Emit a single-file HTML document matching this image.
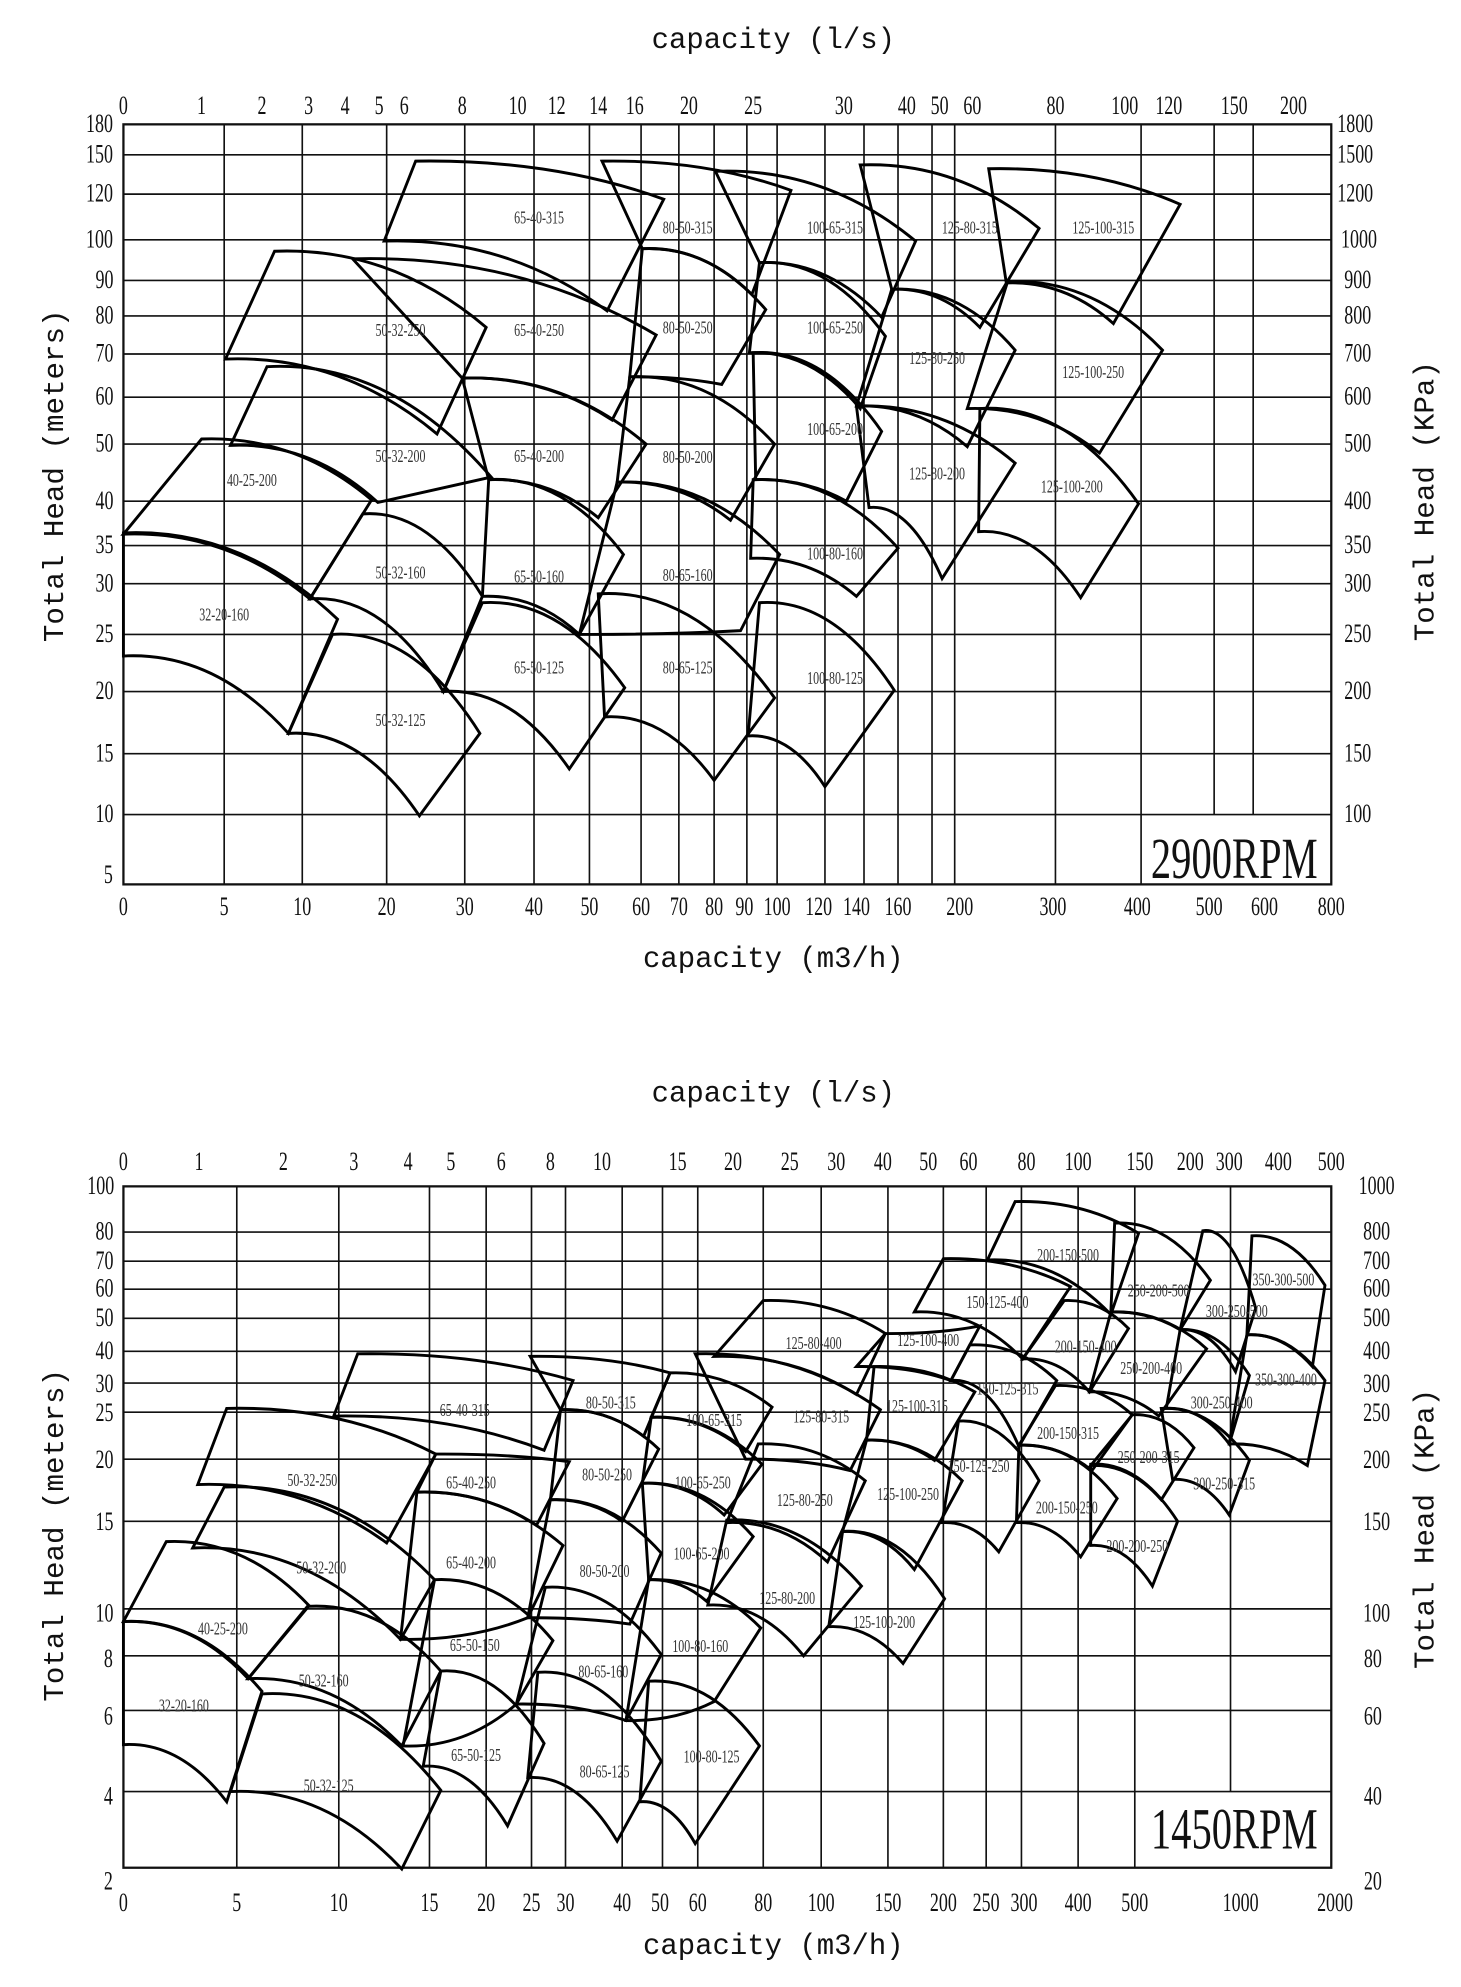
<!DOCTYPE html>
<html><head><meta charset="utf-8"><style>
html,body{margin:0;padding:0;background:#fff;}
svg{display:block;}
text{font-family:"Liberation Serif",serif;fill:#111;}
.t text{font-size:21px;transform-box:fill-box;transform-origin:center;transform:scaleX(0.68);}
.p text{font-size:14px;fill:#333;transform-box:fill-box;transform-origin:center;transform:scaleX(0.68);}
.ax{font-size:23px;font-family:"Liberation Mono","Liberation Sans",monospace;}
.rpm{font-size:46px;transform-box:fill-box;transform-origin:center;transform:scaleX(0.7);}
</style></head><body>
<svg id="s" width="1461" height="1987" viewBox="0 0 1160 1566" preserveAspectRatio="none" xmlns="http://www.w3.org/2000/svg">
<g id="grid" stroke="#111" stroke-width="1.3" fill="none"></g>
<g id="shapes" stroke="#000" stroke-width="2.3" fill="none" stroke-linejoin="miter"></g>

<!-- Chart 1 text -->
<text class="ax" x="614" y="38" text-anchor="middle">capacity (l/s)</text>
<text class="ax" x="614" y="762" text-anchor="middle">capacity (m3/h)</text>
<text class="ax" transform="translate(50,375) rotate(-90)" text-anchor="middle">Total Head (meters)</text>
<text class="ax" transform="translate(1138,395) rotate(-90)" text-anchor="middle">Total Head (KPa)</text>
<text class="rpm" x="980" y="692" text-anchor="middle">2900RPM</text>

<g class="t" text-anchor="middle">
<text x="98" y="90">0</text><text x="160" y="90">1</text><text x="208" y="90">2</text><text x="245" y="90">3</text><text x="274" y="90">4</text><text x="301" y="90">5</text><text x="321" y="90">6</text><text x="367" y="90">8</text><text x="411" y="90">10</text><text x="442" y="90">12</text><text x="475" y="90">14</text><text x="504" y="90">16</text><text x="547" y="90">20</text><text x="598" y="90">25</text><text x="670" y="90">30</text><text x="720" y="90">40</text><text x="746" y="90">50</text><text x="772" y="90">60</text><text x="838" y="90">80</text><text x="893" y="90">100</text><text x="928" y="90">120</text><text x="980" y="90">150</text><text x="1027" y="90">200</text>
<text x="98" y="721">0</text><text x="178" y="721">5</text><text x="240" y="721">10</text><text x="307" y="721">20</text><text x="369" y="721">30</text><text x="424" y="721">40</text><text x="468" y="721">50</text><text x="509" y="721">60</text><text x="539" y="721">70</text><text x="567" y="721">80</text><text x="591" y="721">90</text><text x="617" y="721">100</text><text x="650" y="721">120</text><text x="680" y="721">140</text><text x="713" y="721">160</text><text x="762" y="721">200</text><text x="836" y="721">300</text><text x="903" y="721">400</text><text x="960" y="721">500</text><text x="1004" y="721">600</text><text x="1057" y="721">800</text>
</g>
<g class="t" text-anchor="middle">
<text x="79" y="104">180</text><text x="79" y="128">150</text><text x="79" y="159">120</text><text x="79" y="195">100</text><text x="83" y="227">90</text><text x="83" y="255">80</text><text x="83" y="285">70</text><text x="83" y="319">60</text><text x="83" y="356">50</text><text x="83" y="401">40</text><text x="83" y="436">35</text><text x="83" y="466">30</text><text x="83" y="506">25</text><text x="83" y="551">20</text><text x="83" y="600">15</text><text x="83" y="648">10</text><text x="86" y="696">5</text>
</g>
<g class="t" text-anchor="middle">
<text x="1076" y="104">1800</text><text x="1076" y="128">1500</text><text x="1076" y="159">1200</text><text x="1079" y="195">1000</text><text x="1078" y="227">900</text><text x="1078" y="255">800</text><text x="1078" y="285">700</text><text x="1078" y="319">600</text><text x="1078" y="356">500</text><text x="1078" y="401">400</text><text x="1078" y="436">350</text><text x="1078" y="466">300</text><text x="1078" y="506">250</text><text x="1078" y="551">200</text><text x="1078" y="600">150</text><text x="1078" y="648">100</text>
</g>
<g class="p" text-anchor="middle">
<text x="428" y="176">65-40-315</text><text x="546" y="184">80-50-315</text><text x="663" y="184">100-65-315</text><text x="770" y="184">125-80-315</text><text x="876" y="184">125-100-315</text>
<text x="318" y="265">50-32-250</text><text x="428" y="265">65-40-250</text><text x="546" y="263">80-50-250</text><text x="663" y="263">100-65-250</text><text x="744" y="287">125-80-250</text><text x="868" y="298">125-100-250</text>
<text x="318" y="364">50-32-200</text><text x="428" y="364">65-40-200</text><text x="546" y="365">80-50-200</text><text x="663" y="343">100-65-200</text><text x="744" y="378">125-80-200</text><text x="851" y="388">125-100-200</text>
<text x="200" y="383">40-25-200</text><text x="318" y="456">50-32-160</text><text x="428" y="459">65-50-160</text><text x="546" y="458">80-65-160</text><text x="663" y="441">100-80-160</text><text x="178" y="489">32-20-160</text>
<text x="428" y="531">65-50-125</text><text x="546" y="531">80-65-125</text><text x="663" y="539">100-80-125</text><text x="318" y="572">50-32-125</text>
</g>

<!-- Chart 2 text -->
<text class="ax" x="614" y="868" text-anchor="middle">capacity (l/s)</text>
<text class="ax" x="614" y="1540" text-anchor="middle">capacity (m3/h)</text>
<text class="ax" transform="translate(50,1210) rotate(-90)" text-anchor="middle">Total Head (meters)</text>
<text class="ax" transform="translate(1138,1205) rotate(-90)" text-anchor="middle">Total Head (KPa)</text>
<text class="rpm" x="980" y="1457" text-anchor="middle">1450RPM</text>
<g class="t" text-anchor="middle">
<text x="98" y="922">0</text><text x="158" y="922">1</text><text x="225" y="922">2</text><text x="281" y="922">3</text><text x="324" y="922">4</text><text x="358" y="922">5</text><text x="398" y="922">6</text><text x="437" y="922">8</text><text x="478" y="922">10</text><text x="538" y="922">15</text><text x="582" y="922">20</text><text x="627" y="922">25</text><text x="664" y="922">30</text><text x="701" y="922">40</text><text x="737" y="922">50</text><text x="769" y="922">60</text><text x="815" y="922">80</text><text x="856" y="922">100</text><text x="905" y="922">150</text><text x="945" y="922">200</text><text x="976" y="922">300</text><text x="1015" y="922">400</text><text x="1057" y="922">500</text>
<text x="98" y="1506">0</text><text x="188" y="1506">5</text><text x="269" y="1506">10</text><text x="341" y="1506">15</text><text x="386" y="1506">20</text><text x="422" y="1506">25</text><text x="449" y="1506">30</text><text x="494" y="1506">40</text><text x="524" y="1506">50</text><text x="554" y="1506">60</text><text x="606" y="1506">80</text><text x="652" y="1506">100</text><text x="705" y="1506">150</text><text x="749" y="1506">200</text><text x="783" y="1506">250</text><text x="813" y="1506">300</text><text x="856" y="1506">400</text><text x="901" y="1506">500</text><text x="985" y="1506">1000</text><text x="1060" y="1506">2000</text>
</g>
<g class="t" text-anchor="middle">
<text x="80" y="941">100</text><text x="83" y="977">80</text><text x="83" y="1000">70</text><text x="83" y="1022">60</text><text x="83" y="1045">50</text><text x="83" y="1071">40</text><text x="83" y="1097">30</text><text x="83" y="1120">25</text><text x="83" y="1157">20</text><text x="83" y="1206">15</text><text x="83" y="1278">10</text><text x="86" y="1314">8</text><text x="86" y="1359">6</text><text x="86" y="1422">4</text><text x="86" y="1489">2</text>
</g>
<g class="t" text-anchor="middle">
<text x="1093" y="941">1000</text><text x="1093" y="977">800</text><text x="1093" y="1000">700</text><text x="1093" y="1022">600</text><text x="1093" y="1045">500</text><text x="1093" y="1071">400</text><text x="1093" y="1097">300</text><text x="1093" y="1120">250</text><text x="1093" y="1157">200</text><text x="1093" y="1206">150</text><text x="1093" y="1278">100</text><text x="1090" y="1314">80</text><text x="1090" y="1359">60</text><text x="1090" y="1422">40</text><text x="1090" y="1489">20</text>
</g>
<g class="p" text-anchor="middle">
<text x="146" y="1349">32-20-160</text><text x="177" y="1288">40-25-200</text><text x="261" y="1412">50-32-125</text><text x="257" y="1329">50-32-160</text><text x="255" y="1240">50-32-200</text><text x="248" y="1171">50-32-250</text>
<text x="369" y="1116">65-40-315</text><text x="374" y="1173">65-40-250</text><text x="374" y="1236">65-40-200</text><text x="377" y="1301">65-50-150</text><text x="378" y="1388">65-50-125</text>
<text x="485" y="1110">80-50-315</text><text x="482" y="1167">80-50-250</text><text x="480" y="1243">80-50-200</text><text x="479" y="1322">80-65-160</text><text x="480" y="1401">80-65-125</text>
<text x="567" y="1124">100-65-315</text><text x="558" y="1173">100-65-250</text><text x="557" y="1229">100-65-200</text><text x="556" y="1302">100-80-160</text><text x="565" y="1389">100-80-125</text>
<text x="646" y="1063">125-80-400</text><text x="737" y="1061">125-100-400</text><text x="652" y="1121">125-80-315</text><text x="728" y="1113">125-100-315</text><text x="639" y="1187">125-80-250</text><text x="721" y="1182">125-100-250</text><text x="625" y="1264">125-80-200</text><text x="702" y="1283">125-100-200</text>
<text x="792" y="1031">150-125-400</text><text x="800" y="1099">150-125-315</text><text x="777" y="1160">150-125-250</text>
<text x="848" y="994">200-150-500</text><text x="862" y="1066">200-150-400</text><text x="848" y="1134">200-150-315</text><text x="847" y="1193">200-150-250</text><text x="903" y="1223">200-200-250</text>
<text x="920" y="1022">250-200-500</text><text x="914" y="1083">250-200-400</text><text x="912" y="1153">250-200-315</text>
<text x="982" y="1038">300-250-500</text><text x="970" y="1110">300-250-400</text><text x="972" y="1174">300-250-315</text>
<text x="1019" y="1013">350-300-500</text><text x="1021" y="1092">350-300-400</text>
</g>
</svg>
<script>
(function(){
var NS="http://www.w3.org/2000/svg";
var grid=document.getElementById("grid"),sh=document.getElementById("shapes");
function ln(x1,y1,x2,y2){var e=document.createElementNS(NS,"line");e.setAttribute("x1",x1);e.setAttribute("y1",y1);e.setAttribute("x2",x2);e.setAttribute("y2",y2);grid.appendChild(e);}
function rect(x,y,w,h){var e=document.createElementNS(NS,"rect");e.setAttribute("x",x);e.setAttribute("y",y);e.setAttribute("width",w);e.setAttribute("height",h);e.setAttribute("stroke-width","1.8");grid.appendChild(e);}
var L=98,R=1057,T=98,B=697;
rect(L,T,R-L,B-T);
[122,153,189,221,249,279,313,350,395,430,460,500,545,594,642].forEach(function(y){ln(L,y,R,y);});
[178,240,307,369,424,468,509,539,567,593,617,655,686,713,740,758,838,906].forEach(function(x){ln(x,T,x,B);});
[964,995].forEach(function(x){ln(x,T,x,642);});
var T2=935,B2=1472;
rect(L,T2,R-L,B2-T2);
[971,994,1016,1039,1065,1090,1113,1150,1199,1268,1305,1348,1412].forEach(function(y){ln(L,y,R,y);});
[188,269,341,386,422,449,494,526,554,606,652,705,749,783,811,856,901].forEach(function(x){ln(x,T2,x,B2);});
ln(977,T2,977,1412);
function q(x0,y0,x1,y1){var cx=x0+0.55*(x1-x0),cy=y0-0.06*(y1-y0);return "Q"+cx.toFixed(1)+","+cy.toFixed(1)+" "+x1+","+y1;}
function P(a,b,c,d,e,f,g,h){
 var s="M"+a+","+b+q(a,b,c,d)+"L"+e+","+f;
 var cx=g+0.55*(e-g),cy=h-0.06*(f-h);
 s+="Q"+cx.toFixed(1)+","+cy.toFixed(1)+" "+g+","+h+"Z";
 var p=document.createElementNS(NS,"path");p.setAttribute("d",s);sh.appendChild(p);}
var S1=[
[98,420,268,488,229,578,98,517],
[160,346,295,394,246,472,98,421],
[264,500,381,578,333,643,229,578],
[288,405,383,470,352,545,246,472],
[212,289,390,376,300,396,183,351],
[218,198,386,258,347,342,179,283],
[330,127,527,157,482,245,305,190],
[280,204,521,264,486,331,367,298],
[367,298,513,350,475,408,388,378],
[388,378,495,437,460,500,383,470],
[383,475,496,542,452,606,352,545],
[478,127,628,150,597,232,510,196],
[510,196,608,244,573,303,500,297],
[500,297,615,350,580,410,490,380],
[490,380,619,437,588,497,460,500],
[475,468,615,550,567,615,480,565],
[568,135,727,190,700,250,603,207],
[603,207,703,265,683,322,595,278],
[598,278,700,340,672,395,600,378],
[598,378,713,432,680,470,596,440],
[603,475,710,544,655,620,594,580],
[683,130,825,180,778,258,708,228],
[708,228,806,276,768,352,680,320],
[680,320,806,365,748,456,690,400],
[785,133,937,161,884,255,799,223],
[800,222,923,276,873,357,768,322],
[778,322,904,397,858,471,777,419]
];
var S2=[
[98,1278,208,1333,180,1420,98,1375],
[132,1215,245,1265,197,1323,98,1278],
[208,1335,350,1411,319,1473,183,1412],
[245,1266,350,1317,319,1376,197,1323],
[178,1172,345,1245,318,1292,153,1220],
[180,1110,346,1146,307,1216,157,1170],
[284,1067,455,1088,432,1143,265,1116],
[346,1146,452,1152,426,1202,331,1176],
[331,1176,447,1218,419,1275,318,1292],
[345,1245,439,1293,410,1343,320,1376],
[350,1317,432,1374,403,1439,336,1392],
[421,1069,532,1082,511,1132,445,1111],
[445,1111,523,1142,494,1199,437,1182],
[437,1182,525,1224,500,1280,419,1275],
[433,1251,525,1304,497,1356,410,1343],
[427,1318,525,1388,490,1451,419,1401],
[532,1082,613,1109,592,1144,517,1117],
[517,1117,605,1154,575,1194,510,1169],
[510,1169,598,1211,561,1262,515,1245],
[515,1245,604,1283,567,1341,497,1356],
[515,1325,603,1376,552,1453,508,1420],
[606,1025,703,1051,680,1099,567,1069],
[703,1051,778,1045,755,1088,680,1077],
[552,1067,699,1111,675,1159,592,1150],
[694,1077,774,1097,742,1151,688,1135],
[602,1138,687,1167,657,1231,577,1200],
[688,1135,764,1167,726,1237,669,1207],
[577,1198,684,1250,638,1305,562,1265],
[669,1207,750,1260,717,1311,658,1282],
[749,992,850,1014,812,1071,726,1034],
[770,1060,839,1088,809,1140,755,1088],
[761,1120,825,1167,793,1223,748,1200],
[806,947,904,972,882,1036,784,993],
[845,1025,896,1047,865,1097,812,1071],
[838,1092,899,1115,867,1159,809,1139],
[809,1139,887,1181,858,1227,807,1200],
[866,1154,935,1199,915,1250,866,1218],
[885,964,961,1009,937,1048,882,1034],
[882,1034,958,1063,920,1116,865,1097],
[899,1115,948,1141,922,1182,866,1155],
[955,970,997,1031,981,1081,937,1048],
[937,1048,992,1084,976,1138,926,1110],
[922,1110,992,1151,976,1194,931,1166],
[994,974,1052,1013,1042,1077,990,1052],
[990,1052,1052,1088,1038,1155,976,1138]
];
S1.forEach(function(a){P.apply(null,a);});
S2.forEach(function(a){P.apply(null,a);});
})();
</script>
</body></html>
